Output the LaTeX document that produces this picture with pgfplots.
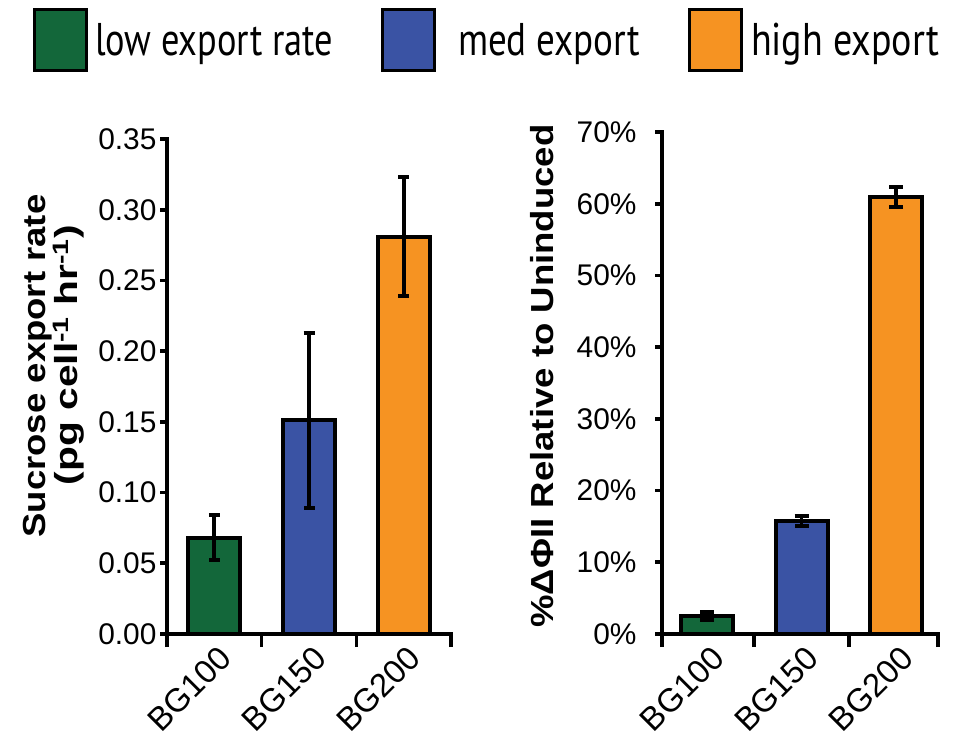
\documentclass[border=0pt]{standalone}
\usepackage{fontspec}
\setmainfont{Liberation Sans}
\newfontfamily\legendfont{PT Sans}
\usepackage{pgfplots}
\pgfplotsset{compat=1.18}

\definecolor{lowexp}{HTML}{13673A}
\definecolor{medexp}{HTML}{3A53A4}
\definecolor{highexp}{HTML}{F69322}

\pgfplotsset{
  barchart/.style={
    scale only axis,
    axis x line*=bottom, axis y line*=left,
    axis line style={line width=3.6bp, black, line cap=rect},
    tick style={line width=3.6bp, black},
    tick align=outside,
    major tick length=7bp,
    minor tick length=13bp,
    major x tick style={draw=none},
    xtick={0,1,2},
    xticklabels={BG100,BG150,BG200},
    ymin=0,
    tick label style={font=\fontsize{30}{36}\selectfont},
    xticklabel style={rotate=45, anchor=north east, xshift=3bp, yshift=-1bp,
      font=\fontsize{33}{36}\selectfont},
    /pgf/number format/assume math mode=true,
    clip=false,
  },
  bars/.style={ybar, bar width=0.55, bar shift=0pt, draw=black, line width=4bp, fill=#1,
    error bars/y dir=both, error bars/y explicit,
    error bars/error bar style={line width=3.8bp, black},
    error bars/error mark options={rotate=90, line width=4bp, black, mark size=5.5bp}},
  swatch/.style={legend image code/.code={%
    \draw[fill=#1, draw=black, line width=3bp] (0bp,-30.5bp) rectangle (52bp,30.5bp);}},
}

\begin{document}
\begin{tikzpicture}
\path[use as bounding box] (0bp,0bp) rectangle (967bp,-738bp);

% Sucrose export rate
\begin{axis}[barchart,
  at={(167bp,-634bp)}, anchor=south west,
  width=284bp, height=495bp,
  xmin=-0.5, xmax=2.5, ymax=0.35,
  minor xtick={-0.5,0.5,1.5,2.5},
  ytick={0,0.05,...,0.35},
  yticklabel style={/pgf/number format/.cd, fixed, fixed zerofill, precision=2},
  legend columns=3,
  legend cell align=left,
  legend style={at={(-0.4718,1.2646)}, anchor=north west, draw=none, fill=none,
    inner sep=0pt, outer sep=0pt, nodes={inner sep=0pt, outer sep=0pt},
    /tikz/column sep=0pt,
    /tikz/every even column/.append style={column sep=48bp}},
]
\addplot[swatch=lowexp, bars=lowexp] coordinates {(0,0.068) +- (0,0.016)};
\addlegendentry{\hspace*{7bp}\resizebox{238bp}{\height}{\legendfont\fontsize{46}{50}\selectfont low export rate}}
\addplot[swatch=medexp, bars=medexp] coordinates {(1,0.151) +- (0,0.062)};
\addlegendentry{\hspace*{22bp}\resizebox{182bp}{\height}{\legendfont\fontsize{46}{50}\selectfont med export}}
\addplot[swatch=highexp, bars=highexp] coordinates {(2,0.281) +- (0,0.042)};
\addlegendentry{\hspace*{8bp}\resizebox{188bp}{\height}{\legendfont\fontsize{46}{50}\selectfont high export}}
\end{axis}

% Change in PSII yield
\begin{axis}[barchart,
  at={(662bp,-634bp)}, anchor=south west,
  width=276bp, height=502bp,
  xmin=-0.476, xmax=2.444, ymax=70,
  minor xtick={-0.476,0.5,1.5,2.444},
  ytick={0,10,...,70},
  yticklabel={\pgfmathprintnumber[fixed,precision=0]{\tick}\%},
  yticklabel style={xshift=-15bp},
]
\addplot[bars=lowexp, error bars/error mark options={rotate=90, line width=4bp, black, mark size=7bp}] coordinates {(0,2.5) +- (0,0.6)};
\addplot[bars=medexp, error bars/error mark options={rotate=90, line width=4bp, black, mark size=7bp}] coordinates {(1,15.7) +- (0,0.7)};
\addplot[bars=highexp, error bars/error mark options={rotate=90, line width=4bp, black, mark size=7bp}] coordinates {(2,60.9) +- (0,1.4)};
\end{axis}

% axis titles
\node[rotate=90, anchor=base, inner sep=0pt, font=\bfseries\fontsize{32}{36}\selectfont]
  at (45bp,-366bp) {\resizebox{343bp}{\height}{Sucrose export rate}};
\node[rotate=90, anchor=base, inner sep=0pt, font=\bfseries\fontsize{32}{36}\selectfont]
  at (77bp,-355bp) {\resizebox{260bp}{\height}{(pg cell\textsuperscript{-1} hr\textsuperscript{-1})}};
\node[rotate=90, anchor=base, inner sep=0pt, font=\bfseries\fontsize{32}{36}\selectfont]
  at (553bp,-376bp) {\resizebox{503bp}{\height}{\%ΔΦII Relative to Uninduced}};
\end{tikzpicture}
\end{document}
